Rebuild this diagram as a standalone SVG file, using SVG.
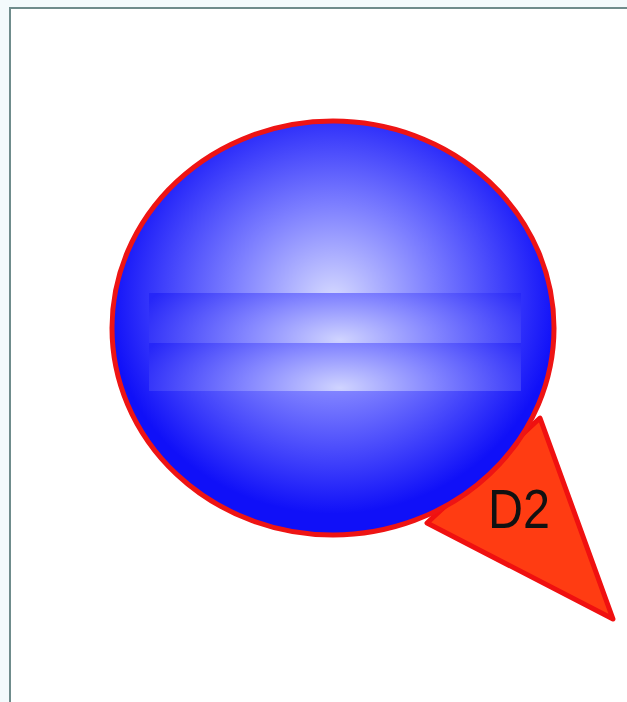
<svg xmlns="http://www.w3.org/2000/svg" width="627" height="702" viewBox="0 0 627 702">
<defs>
<radialGradient id="gMain" cx="333" cy="300" r="225" gradientUnits="userSpaceOnUse" gradientTransform="translate(333 300) scale(1 0.95) translate(-333 -300)">
<stop offset="0" stop-color="#d6daff"/>
<stop offset="0.45" stop-color="#7c7eff"/>
<stop offset="1" stop-color="#1010f8"/>
</radialGradient>
<radialGradient id="gBand1" cx="340" cy="340" r="210" gradientUnits="userSpaceOnUse" gradientTransform="translate(340 340) scale(1 0.45) translate(-340 -340)">
<stop offset="0" stop-color="#d0d4ff"/>
<stop offset="0.45" stop-color="#8486ff"/>
<stop offset="1" stop-color="#2626f8"/>
</radialGradient>
<radialGradient id="gBand2" cx="340" cy="388" r="210" gradientUnits="userSpaceOnUse" gradientTransform="translate(340 388) scale(1 0.45) translate(-340 -388)">
<stop offset="0" stop-color="#d0d4ff"/>
<stop offset="0.45" stop-color="#8486ff"/>
<stop offset="1" stop-color="#2626f8"/>
</radialGradient>
<clipPath id="clipE"><ellipse cx="333" cy="328" rx="221" ry="207"/></clipPath>
</defs>
<style>
.frame{fill:#ffffff;stroke:#6f8c8c;stroke-width:2}
.label{font-family:"Liberation Sans","Open Sans",sans-serif;font-size:56px;fill:#111111}
</style>
<rect x="0" y="0" width="627" height="702" fill="#f3fafc"/>
<rect class="frame" x="10" y="8" width="630" height="710"/>
<g id="pointer">
<polygon points="540,418 427,523 613,619" fill="#ff3c12" stroke="#f01010" stroke-width="5" stroke-linejoin="round"/>
</g>
<g id="bubble">
<ellipse cx="333" cy="328" rx="221" ry="207" fill="url(#gMain)"/>
<g clip-path="url(#clipE)">
<rect x="149" y="293" width="372" height="50" fill="url(#gBand1)"/>
<rect x="149" y="343" width="372" height="48" fill="url(#gBand2)"/>
</g>
<ellipse cx="333" cy="328" rx="221" ry="207" fill="none" stroke="#ee1414" stroke-width="5"/>
</g>
<g id="label">
<text class="label" x="488" y="528" textLength="62" lengthAdjust="spacingAndGlyphs">D2</text>
</g>
</svg>
